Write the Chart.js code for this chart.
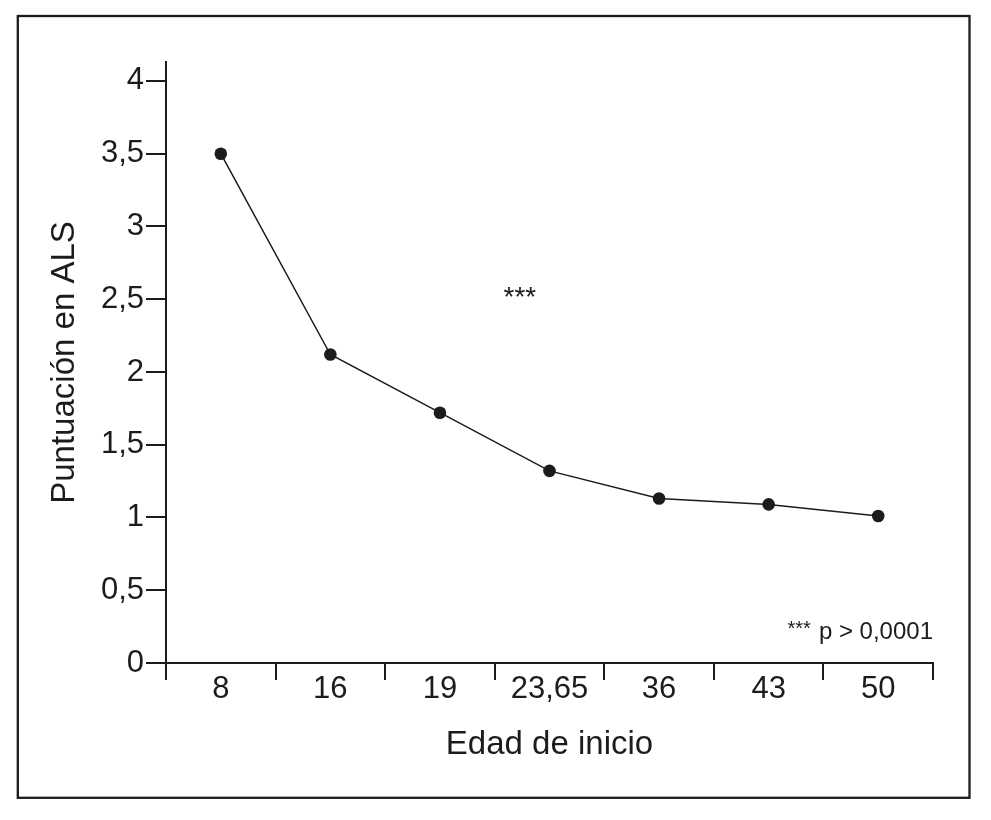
<!DOCTYPE html>
<html>
<head>
<meta charset="utf-8">
<script src="https://cdn.jsdelivr.net/npm/chart.js@4/dist/chart.umd.min.js"></script>
<style>
  html, body { margin: 0; padding: 0; background: #fff; }
  #wrap { width: 991px; height: 820px; position: relative; }
</style>
</head>
<body>
<div id="wrap"><canvas id="c" width="991" height="820"></canvas></div>
<script>
// ---- data ----
const categories = ['8', '16', '19', '23,65', '36', '43', '50'];
const alsScores = [3.5, 2.12, 1.72, 1.32, 1.13, 1.09, 1.01];
const yTickValues = [0, 0.5, 1, 1.5, 2, 2.5, 3, 3.5, 4];
const xAxisTitle = 'Edad de inicio';
const yAxisTitle = 'Puntuación en ALS';
const significanceMark = '***';
const noteStars = '***';
const noteText = 'p > 0,0001';

const INK = '#1c1c1c';
const FONT = '"Liberation Sans", Arial, Helvetica, sans-serif';

const framePlugin = {
  id: 'frameAndNotes',
  afterDraw(chart) {
    const ctx = chart.ctx;
    const xs = chart.scales.x, ys = chart.scales.y, area = chart.chartArea;
    ctx.save();
    // outer frame
    ctx.strokeStyle = INK;
    ctx.lineWidth = 2.3;
    ctx.strokeRect(17.8, 16, 969.5 - 17.8, 797.8 - 16);
    // significance mark
    ctx.fillStyle = INK;
    ctx.font = '28px ' + FONT;
    ctx.textAlign = 'center';
    ctx.textBaseline = 'alphabetic';
    ctx.fillText(significanceMark, xs.getPixelForValue(2.73), ys.getPixelForValue(2.45));
    // bottom-right note
    ctx.font = '24px ' + FONT;
    ctx.textAlign = 'right';
    const baseY = ys.getPixelForValue(0.165);
    ctx.fillText(noteText, area.right, baseY);
    const w = ctx.measureText(noteText).width;
    ctx.font = '20px ' + FONT;
    ctx.fillText(noteStars, area.right - w - 8, baseY - 4);
    ctx.restore();
  }
};

new Chart(document.getElementById('c'), {
  type: 'line',
  data: {
    labels: categories,
    datasets: [{
      data: alsScores,
      borderColor: INK,
      borderWidth: 1.5,
      tension: 0,
      pointRadius: 6.3,
      pointBackgroundColor: INK,
      pointBorderColor: INK,
      pointBorderWidth: 0,
      fill: false
    }]
  },
  options: {
    responsive: false,
    animation: false,
    devicePixelRatio: 1,
    layout: { padding: { top: 62, right: 58, left: 0, bottom: 0 } },
    plugins: { legend: { display: false }, tooltip: { enabled: false } },
    scales: {
      x: {
        type: 'category',
        offset: true,
        grid: {
          offset: true,
          drawOnChartArea: false,
          drawTicks: true,
          tickLength: 17,
          color: INK,
          lineWidth: 2
        },
        border: { display: true, color: INK, width: 2 },
        ticks: {
          color: INK,
          font: { family: FONT, size: 31 },
          padding: -9,
          maxRotation: 0,
          autoSkip: false
        },
        title: {
          display: true,
          text: xAxisTitle,
          color: INK,
          font: { family: FONT, size: 33 },
          padding: { top: 0, bottom: 55 }
        },
        afterFit(scale) { scale.height = 157; }
      },
      y: {
        min: 0,
        max: 4.13,
        afterBuildTicks(scale) { scale.ticks = yTickValues.map(v => ({ value: v })); },
        grid: {
          drawOnChartArea: false,
          drawTicks: true,
          tickLength: 20,
          color: INK,
          lineWidth: 2
        },
        border: { display: true, color: INK, width: 2 },
        ticks: {
          color: INK,
          font: { family: FONT, size: 31 },
          padding: 2,
          callback: v => String(v).replace('.', ',')
        },
        title: {
          display: true,
          text: yAxisTitle,
          color: INK,
          font: { family: FONT, size: 33 },
          padding: { top: 45, bottom: 0 }
        },
        afterFit(scale) { scale.width = 166; }
      }
    }
  },
  plugins: [framePlugin]
});
</script>
</body>
</html>
